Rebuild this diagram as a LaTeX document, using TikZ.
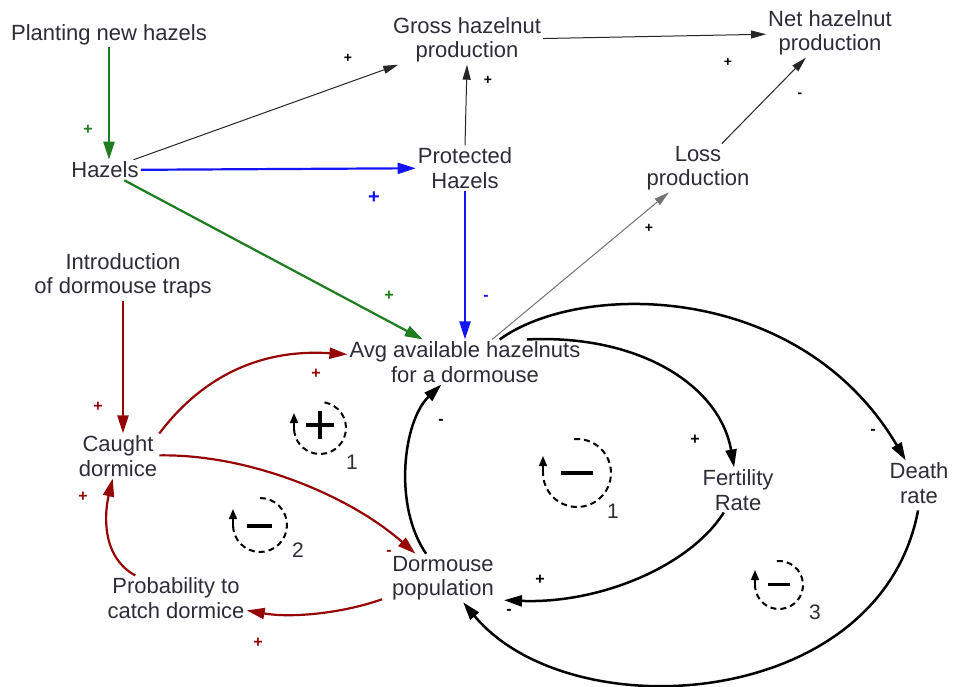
\documentclass[tikz,border=0pt]{standalone}
\usepackage{fontspec}
\setmainfont{Liberation Sans}
\usetikzlibrary{arrows.meta}
\definecolor{tgreen}{RGB}{30,125,30}
\definecolor{tred}{RGB}{150,5,5}
\definecolor{tblue}{RGB}{20,20,245}
\definecolor{txt}{RGB}{45,45,55}
\begin{document}
\begin{tikzpicture}[x=1pt,y=1pt,
  lab/.style={align=center, text=txt, font=\fontsize{22}{24.5}\selectfont, inner sep=2pt},
  sg/.style={font=\fontsize{16}{16}\selectfont\bfseries, inner sep=0pt},
  sgs/.style={font=\fontsize{14}{14}\selectfont\bfseries, inner sep=0pt, text=black},
  num/.style={font=\fontsize{21}{21}\selectfont, text=txt, inner sep=0pt},
  thinarr/.style={draw=black!85, line width=1pt, -{Triangle[length=15pt,width=8pt]}},
  greyarr/.style={draw=black!55, line width=1pt, -{Triangle[length=15pt,width=8pt]}},
  garr/.style={draw=tgreen, line width=2.2pt, -{Triangle[length=18pt,width=11pt]}},
  barr/.style={draw=tblue, line width=2.2pt, -{Triangle[length=18pt,width=11pt]}},
  rarr/.style={draw=tred, line width=2.2pt, -{Triangle[length=18pt,width=11pt]}},
  karr/.style={draw=black, line width=2.5pt, -{Triangle[length=18pt,width=11pt]}},
  loopd/.style={draw=black, dash pattern=on 6pt off 4pt, line width=2pt},
  looparr/.style={draw=black, line width=1.6pt, -{Triangle[length=10pt,width=8pt]}}
]
\useasboundingbox[fill=white] (0,0) rectangle (955,686);

% nodes
\node[lab] (plant) at (109,651) {Planting new hazels};
\node[lab] (gross) at (467,646) {Gross hazelnut\\production};
\node[lab] (net) at (830,653) {Net hazelnut\\production};
\node[lab] (hz) at (105,516) {Hazels};
\node[lab] (prot) at (465,518) {Protected\\Hazels};
\node[lab] (loss) at (698,518) {Loss\\production};
\node[lab] (intro) at (123,410) {Introduction\\of dormouse traps};
\node[lab] (avg) at (465,324) {Avg available hazelnuts\\for a dormouse};
\node[lab] (caught) at (118,230) {Caught\\dormice};
\node[lab] (fert) at (738,196) {Fertility\\Rate};
\node[lab] (death) at (919,203) {Death\\rate};
\node[lab, inner xsep=10pt] (dpop) at (443,108) {Dormouse\\population};
\node[lab] (prob) at (176,88) {Probability to\\catch dormice};

% straight connectors
\draw[garr] (plant.south) -- (plant.south |- hz.north);
\draw[thinarr] (hz) -- (gross);
\draw[thinarr] (gross) -- (net);
\draw[thinarr] (prot.north) -- (gross.south);
\draw[barr] (hz) -- (prot);
\draw[garr] (hz) -- (avg);
\draw[barr] (prot.south) -- (avg.north);
\draw[greyarr] (avg) -- (loss);
\draw[thinarr] (loss) -- (net);
\draw[rarr] (intro.south) -- (intro.south |- caught.north);

% curved connectors
\draw[rarr] (caught.north east) .. controls (195,300) and (250,338) .. (avg);
\draw[rarr] (caught) .. controls (250,232) and (350,190) .. (dpop);
\draw[rarr] (dpop) .. controls (340,72) and (290,68) .. (prob);
\draw[rarr] (prob) .. controls (100,130) and (105,175) .. (caught);
\draw[karr] (dpop) .. controls (393,180) and (403,265) .. (avg);
\draw[karr] (avg.20) .. controls (640,352) and (720,300) .. (fert);
\draw[karr] (avg.33) .. controls (580,405) and (800,405) .. (death);
\draw[karr] (fert) .. controls (690,120) and (600,82) .. (dpop.-20);
\draw[karr, shorten <=5pt] (death.south) .. controls (880,-25) and (570,-45) .. (dpop);

% polarity signs
\node[sg, text=tgreen] at (88,556) {+};
\node[sgs] at (348,628) {+};
\node[sgs] at (488,606) {+};
\node[sgs] at (728,624) {+};
\node[sgs] at (800,591) {-};
\node[sg, text=tblue, font=\fontsize{20}{20}\selectfont\bfseries] at (374,488) {+};
\node[sg, text=tgreen] at (389,390) {+};
\node[sg, text=tblue] at (486,388) {-};
\node[sgs] at (649,458) {+};
\node[sg, text=tred] at (98,279) {+};
\node[sg, text=tred] at (316,312) {+};
\node[sg, text=black] at (441,264) {-};
\node[sg, text=black] at (695,246) {+};
\node[sg, text=black] at (873,254) {-};
\node[sg, text=tred] at (83,189) {+};
\node[sg, text=tred] at (389,133) {-};
\node[sg, text=black] at (540,106) {+};
\node[sg, text=black] at (509,74) {-};
\node[sg, text=tred] at (258,43) {+};

% loop markers
% R1
\draw[loopd] (320,258) ++(80:26) arc[start angle=80, end angle=-180, radius=26];
\draw[looparr] (294,255) -- (294,273);
\draw[line width=3.5pt] (306,261) -- (334,261) (320,247) -- (320,275);
\node[num] at (352,224) {1};
% B1
\draw[loopd] (577,213) ++(95:34) arc[start angle=95, end angle=-180, radius=34];
\draw[looparr] (543,210) -- (543,230);
\draw[line width=4.5pt] (561,213) -- (593,213);
\node[num] at (613,175) {1};
% B2
\draw[loopd] (260,161) ++(90:27) arc[start angle=90, end angle=-180, radius=27];
\draw[looparr] (233,158) -- (233,177);
\draw[line width=3.5pt] (247,160) -- (272,160);
\node[num] at (298,136) {2};
% B3
\draw[loopd] (779,101) ++(95:24) arc[start angle=95, end angle=-180, radius=24];
\draw[looparr] (755,98) -- (755,116);
\draw[line width=3pt] (768,102) -- (790,102);
\node[num] at (815,74) {3};
\end{tikzpicture}
\end{document}
